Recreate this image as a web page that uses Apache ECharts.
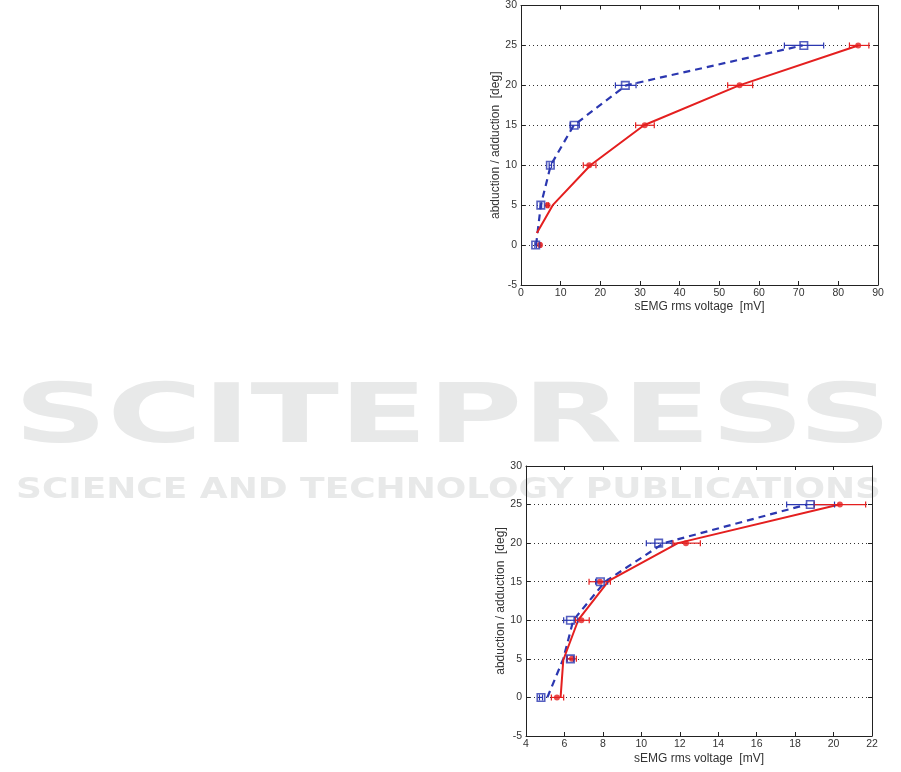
<!DOCTYPE html>
<html>
<head>
<meta charset="utf-8">
<script src="https://cdn.jsdelivr.net/npm/echarts@6/dist/echarts.min.js"></script>
<style>html,body{margin:0;padding:0;background:#fff}#c{width:901px;height:772px}</style>
</head>
<body>
<div id="c"></div>
<script>
// ---- data ----
var levels = [0, 5, 10, 15, 20, 25];

// top panel
var topBlueX  = [3.7, 5.0, 7.4, 13.4, 26.3, 71.3];
var topBlueLo = [3.5, 4.8, 7.1, 12.4, 23.8, 66.4];
var topBlueHi = [3.9, 5.2, 7.7, 14.7, 29.0, 76.3];
var topRedX   = [4.8, 6.7, 17.2, 31.2, 55.1, 85.0];
var topRedLo  = [4.6, 6.5, 15.7, 28.9, 52.1, 82.8];
var topRedHi  = [5.0, 6.9, 18.9, 33.6, 58.4, 87.7];
var topBlueFitX = [3.8, 5.0, 7.5, 13.3, 26.5, 71.0];
var topBlueFitY = [0, 5, 10, 15, 20, 25];
var topRedFitX  = [4.0, 8.0, 17.5, 31.0, 55.0, 85.0];
var topRedFitY  = [1.5, 5, 10, 15, 20, 25];

// bottom panel
var botBlueX  = [4.78, 6.31, 6.31, 7.87, 10.9, 18.79];
var botBlueLo = [4.70, 6.15, 5.96, 7.62, 10.26, 17.56];
var botBlueHi = [4.86, 6.47, 6.69, 8.25, 11.60, 20.05];
var botRedX   = [5.61, 6.39, 6.88, 7.85, 12.32, 20.33];
var botRedLo  = [5.32, 6.13, 6.57, 7.28, 11.65, 19.00];
var botRedHi  = [5.96, 6.62, 7.29, 8.39, 13.07, 21.67];
var botBlueFitX = [5.11, 5.94, 6.46, 8.11, 11.16, 18.6];
var botBlueFitY = [0, 5, 10, 15, 20, 25];
var botRedFitX  = [5.80, 5.94, 6.72, 8.30, 11.9, 20.3];
var botRedFitY  = [0, 4.85, 10.04, 15.1, 20, 25];

var xTopTicks = {min: 0, max: 90, interval: 10};
var xBotTicks = {min: 4, max: 22, interval: 2};
var yTicks = {min: -5, max: 30, interval: 5};

var xName = 'sEMG rms voltage  [mV]';
var yName = 'abduction / adduction  [deg]';
var watermark1 = 'SCITEPRESS';
var watermark2 = 'SCIENCE AND TECHNOLOGY PUBLICATIONS';

// ---- build ----
var BLUE = '#2b37b0', RED = '#e41f1f';
var FONT = 'Liberation Sans';
function pairs(xs, ys) { return xs.map(function (x, i) { return [x, ys[i]]; }); }
function errData(lo, hi, ys) { return ys.map(function (y, i) { return [lo[i], hi[i], y]; }); }

function errSeries(xi, yi, data, color) {
  return {
    type: 'custom', xAxisIndex: xi, yAxisIndex: yi, z: 3,
    data: data,
    encode: {x: [0, 1], y: 2},
    renderItem: function (params, api) {
      var p1 = api.coord([api.value(0), api.value(2)]);
      var p2 = api.coord([api.value(1), api.value(2)]);
      var h = 3;
      var st = {stroke: color, lineWidth: 1.2};
      return {type: 'group', children: [
        {type: 'line', shape: {x1: p1[0], y1: p1[1], x2: p2[0], y2: p2[1]}, style: st},
        {type: 'line', shape: {x1: p1[0], y1: p1[1] - h, x2: p1[0], y2: p1[1] + h}, style: st},
        {type: 'line', shape: {x1: p2[0], y1: p2[1] - h, x2: p2[0], y2: p2[1] + h}, style: st}
      ]};
    }
  };
}

function xAxes(gi, t, nameGap) {
  return [
    {gridIndex: gi, type: 'value', min: t.min, max: t.max, interval: t.interval, position: 'bottom',
     name: xName, nameLocation: 'middle', nameGap: nameGap,
     nameTextStyle: {fontFamily: FONT, fontSize: 12, color: '#333'},
     axisLine: {show: true, onZero: false, lineStyle: {color: '#222', width: 1}},
     axisTick: {show: true, inside: true, length: 4, lineStyle: {color: '#222'}},
     axisLabel: {fontFamily: FONT, fontSize: 10.5, color: '#333', margin: 3},
     splitLine: {show: false}},
    {gridIndex: gi, type: 'value', min: t.min, max: t.max, interval: t.interval, position: 'top',
     axisLine: {show: true, onZero: false, lineStyle: {color: '#222', width: 1}},
     axisTick: {show: true, inside: true, length: 4, lineStyle: {color: '#222'}},
     axisLabel: {show: false}, splitLine: {show: false}}
  ];
}
function yAxes(gi, nameGap) {
  return [
    {gridIndex: gi, type: 'value', min: yTicks.min, max: yTicks.max, interval: yTicks.interval, position: 'left',
     name: yName, nameLocation: 'middle', nameGap: nameGap,
     nameTextStyle: {fontFamily: FONT, fontSize: 12, color: '#333'},
     axisLine: {show: true, onZero: false, lineStyle: {color: '#222', width: 1}},
     axisTick: {show: true, inside: true, length: 4, lineStyle: {color: '#222'}},
     axisLabel: {fontFamily: FONT, fontSize: 10.5, color: '#333', margin: 4},
     splitLine: {show: true, lineStyle: {type: [1, 3], color: '#333', width: 1}}},
    {gridIndex: gi, type: 'value', min: yTicks.min, max: yTicks.max, interval: yTicks.interval, position: 'right',
     axisLine: {show: true, onZero: false, lineStyle: {color: '#222', width: 1}},
     axisTick: {show: true, inside: true, length: 4, lineStyle: {color: '#222'}},
     axisLabel: {show: false}, splitLine: {show: false}}
  ];
}

function panelSeries(xi, yi, d) {
  return [
    {type: 'line', xAxisIndex: xi, yAxisIndex: yi, data: pairs(d.bfx, d.bfy), symbol: 'none', z: 2,
     lineStyle: {color: BLUE, width: 2.2, type: [7, 5]}},
    {type: 'line', xAxisIndex: xi, yAxisIndex: yi, data: pairs(d.rfx, d.rfy), symbol: 'none', z: 2,
     lineStyle: {color: RED, width: 2}},
    errSeries(xi, yi, errData(d.blo, d.bhi, levels), BLUE),
    errSeries(xi, yi, errData(d.rlo, d.rhi, levels), RED),
    {type: 'scatter', xAxisIndex: xi, yAxisIndex: yi, data: pairs(d.rx, levels), symbol: 'circle', symbolSize: 6, z: 4,
     itemStyle: {color: RED}},
    {type: 'scatter', xAxisIndex: xi, yAxisIndex: yi, data: pairs(d.bx, levels), symbol: 'rect', symbolSize: 7.5, z: 5,
     itemStyle: {color: 'rgba(255,255,255,0)', borderColor: BLUE, borderWidth: 1.6}}
  ];
}

var series = [].concat(
  panelSeries(0, 0, {bfx: topBlueFitX, bfy: topBlueFitY, rfx: topRedFitX, rfy: topRedFitY,
    blo: topBlueLo, bhi: topBlueHi, rlo: topRedLo, rhi: topRedHi, rx: topRedX, bx: topBlueX}),
  panelSeries(2, 2, {bfx: botBlueFitX, bfy: botBlueFitY, rfx: botRedFitX, rfy: botRedFitY,
    blo: botBlueLo, bhi: botBlueHi, rlo: botRedLo, rhi: botRedHi, rx: botRedX, bx: botBlueX})
);

var chart = echarts.init(document.getElementById('c'), null, {renderer: 'canvas'});
chart.setOption({
  animation: false,
  backgroundColor: '#fff',
  graphic: [
    {type: 'text', left: 14, top: 380, z: -10, scaleX: 1.58, silent: true,
     style: {text: watermark1, font: 'bold 82px "DejaVu Sans"', fill: '#e8e9e9'}},
    {type: 'text', left: 16, top: 476, z: -10, scaleX: 1.24, silent: true,
     style: {text: watermark2, font: 'bold 29px "DejaVu Sans"', fill: '#e8e9e9'}}
  ],
  grid: [
    {left: 521, top: 5, width: 357, height: 280, show: false},
    {left: 526, top: 466, width: 346, height: 270, show: false}
  ],
  xAxis: [].concat(xAxes(0, xTopTicks, 16), xAxes(1, xBotTicks, 17)),
  yAxis: [].concat(yAxes(0, 19), yAxes(1, 18)),
  series: series
});
</script>
</body>
</html>
